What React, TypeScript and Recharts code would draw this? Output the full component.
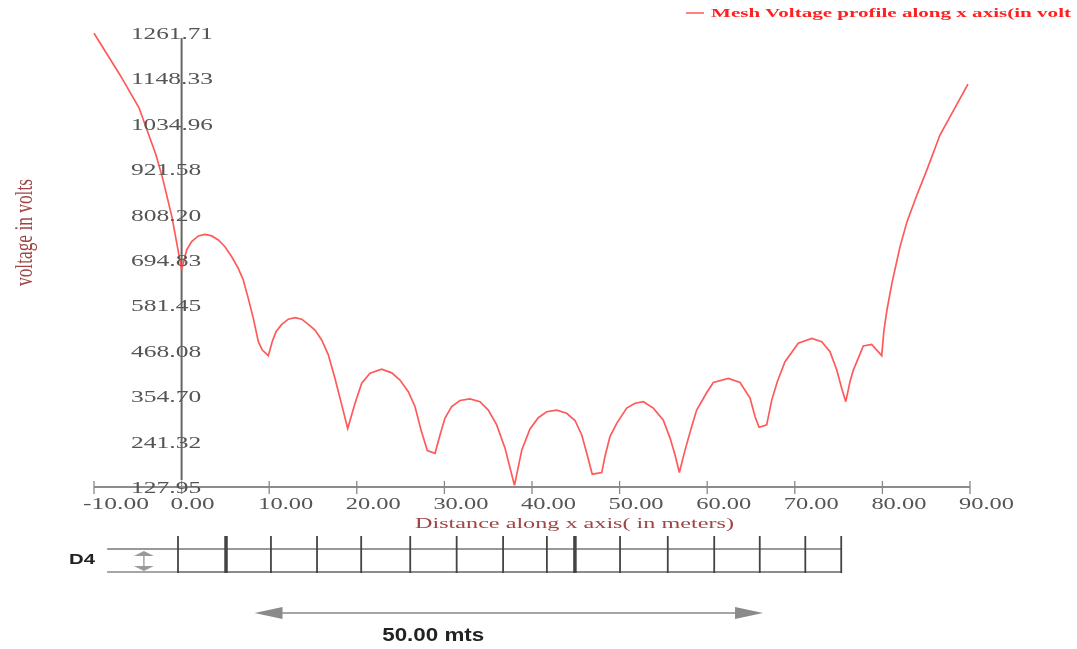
import { ComposedChart, Line, XAxis, YAxis, Legend, ReferenceLine, ReferenceDot, Label } from 'recharts';

// Mesh voltage profile
const distance = [
  -10, -7.03, -4.86, -2.92, -2.12, -1.1, -0.41, 0, 0.58, 1.15, 1.91, 2.67, 3.44, 4.19, 4.95, 5.72, 6.47, 7.04, 7.61, 8.19, 8.76, 9.21, 9.9,
  10.35, 10.78, 11.43, 12.18, 12.95, 13.71, 14.46, 15.23, 15.99, 16.75, 17.51, 18.28, 18.96, 19.8,
  20.56, 21.51, 22.84, 23.99, 24.93, 25.88, 26.64, 27.33, 28.05, 28.93, 29.5,
  30.07, 30.83, 31.78, 32.92, 34.06, 35.01, 35.97, 36.92, 38.0, 38.83, 39.77,
  40.72, 41.68, 42.82, 43.96, 44.91, 45.68, 46.25, 46.88, 47.96, 48.33, 48.9, 49.67,
  50.81, 51.76, 52.71, 53.85, 54.99, 55.76, 56.33, 56.82, 57.47, 58.23, 58.8, 59.95,
  60.7, 62.41, 63.75, 64.89, 65.46, 65.92, 66.79, 67.37, 68.0, 68.88,
  70.4, 71.93, 73.07, 74.02, 74.79, 75.36, 75.82, 76.3, 76.68, 77.82, 78.78, 79.92,
  80.18, 80.52, 81.09, 82.0, 82.8, 83.94, 85.08, 86.57, 89.77,
];
const voltage = [
  1261, 1157, 1075, 957, 895, 802, 720, 670, 720, 741, 755, 759, 755, 745, 728, 703, 674, 645, 599, 549, 491, 470, 456,
  491, 516, 534, 547, 551, 547, 534, 520, 495, 458, 399, 333, 274, 337,
  387, 412, 422, 413, 395, 366, 329, 270, 219, 212, 258,
  300, 329, 344, 348, 341, 320, 283, 225, 132, 220, 273,
  301, 316, 320, 312, 294, 258, 212, 160, 164, 204, 254, 287,
  325, 337, 341, 325, 295, 250, 208, 164, 220, 279, 320, 364,
  389, 399, 389, 350, 304, 277, 283, 345, 391, 441,
  487, 499, 491, 466, 420, 374, 341, 391, 420, 480, 484, 456,
  520, 570, 637, 727, 790, 857, 920, 1007, 1134,
];
const xTicks = [-10, 0, 10, 20, 30, 40, 50, 60, 70, 80, 90];
const yTicks = [127.95, 241.32, 354.7, 468.08, 581.45, 694.83, 808.2, 921.58, 1034.96, 1148.33, 1261.71];

// conductor spacing drawn under the chart, in meters
const conductors = [-0.41, 5.07, 10.2, 15.46, 20.5, 26.1, 31.4, 36.7, 41.7, 44.9, 50.05, 55.5, 60.8, 66, 71.2, 75.3];
const thickConductors = [5.07, 44.9];

const data = distance.map((d, i) => ({ distance: d, voltage: voltage[i] }));
const layoutData = conductors.map((c) => ({ distance: c, level: 42 }));

const SERIES_NAME = 'Mesh Voltage profile along x axis(in volt';
const SERIF = '"Liberation Serif", serif';
const SANS = '"Liberation Sans", Arial, sans-serif';
const TICK_COLOR = '#555555';
const TITLE_COLOR = '#a04545';
const LINE_COLOR = '#ff5a5a';

const XTick = ({ x, y, payload }: any) => {
  const label = payload.value.toFixed(2);
  return (
    <g>
      <line x1={x} x2={x} y1={y - 14} y2={y - 1} stroke="#888" strokeWidth={1.3} />
      <text x={x - 11} y={y + 14} fontFamily={SERIF} fontSize={16} fill={TICK_COLOR}
        textLength={label.length * 11} lengthAdjust="spacingAndGlyphs">{label}</text>
    </g>
  );
};

const YTick = ({ y, payload }: any) => {
  const label = payload.value.toFixed(2);
  return (
    <text x={131} y={y + 6} fontFamily={SERIF} fontSize={16} fill={TICK_COLOR}
      textLength={label.length * 11.7} lengthAdjust="spacingAndGlyphs">{label}</text>
  );
};

const LegendLine = () => (
  <svg width={1077} height={24} style={{ position: 'absolute', left: 0, top: 0, overflow: 'visible' }}>
    <line x1={686} x2={704} y1={13} y2={13} stroke={LINE_COLOR} strokeWidth={1.5} />
    <text x={711} y={17} fontFamily={SERIF} fontWeight="bold" fontSize={13} fill="#ff2020"
      textLength={360} lengthAdjust="spacingAndGlyphs">{SERIES_NAME}</text>
  </svg>
);

const Triangle = ({ cx, cy, dir }: any) => (
  <path d={`M${cx + dir * 14} ${cy} L${cx - dir * 14} ${cy - 6} L${cx - dir * 14} ${cy + 6} Z`} fill="#8a8a8a" />
);

const Cap = ({ cx, cy, dir }: any) => (
  <path d={`M${cx} ${cy} L${cx - 10} ${cy + dir * 5} L${cx + 10} ${cy + dir * 5} Z`} fill="#999" />
);

const TextMark = ({ cx, cy, text, length, size }: any) => (
  <text x={cx} y={cy} fontFamily={SANS} fontWeight="bold" fontSize={size} fill="#222"
    textLength={length} lengthAdjust="spacingAndGlyphs">{text}</text>
);

export default function App() {
  return (
    <div style={{ position: 'absolute', left: 0, top: 0, width: 1077, height: 649, background: '#fff', overflow: 'hidden', filter: 'blur(0.5px)' }}>
      <div style={{ position: 'absolute', left: 0, top: 0 }}>
        <ComposedChart width={1077} height={649} data={data} margin={{ top: 33, right: 107, left: 93, bottom: 132 }}>
          <XAxis dataKey="distance" type="number" domain={[-10, 90]} ticks={xTicks} interval={0} height={30}
            axisLine={{ stroke: '#666', strokeWidth: 1.5 }} tickLine={false} tick={<XTick />}>
            <Label position="insideBottom" content={() => (
              <text x={415} y={528} fontFamily={SERIF} fontSize={15} fill={TITLE_COLOR}
                textLength={319} lengthAdjust="spacingAndGlyphs">Distance along x axis( in meters)</text>
            )} />
          </XAxis>
          <YAxis type="number" domain={[127.95, 1261.71]} ticks={yTicks} interval={0} width={1}
            axisLine={false} tickLine={false} tick={<YTick />}>
            <Label content={() => (
              <text transform="translate(32 286) rotate(-90)" fontFamily={SERIF} fontSize={26} fill={TITLE_COLOR}
                textLength={107} lengthAdjust="spacingAndGlyphs">voltage in volts</text>
            )} />
          </YAxis>
          <ReferenceLine segment={[{ x: 0, y: 1249 }, { x: 0, y: 145 }]} stroke="#666" strokeWidth={2} />
          <Legend verticalAlign="top" wrapperStyle={{ position: 'absolute', top: 0, left: 0, width: 1077, height: 0 }} content={<LegendLine />} />
          <Line dataKey="voltage" name={SERIES_NAME} type="linear" stroke={LINE_COLOR} strokeWidth={1.7} dot={false} isAnimationActive={false} />
        </ComposedChart>
      </div>
      {/* conductor layout under the chart, same meter scale */}
      <div style={{ position: 'absolute', left: 0, top: 530 }}>
        <ComposedChart width={1077} height={119} data={layoutData} margin={{ top: 0, right: 107, left: 94, bottom: 0 }}>
          <XAxis dataKey="distance" type="number" domain={[-10, 90]} hide />
          <YAxis type="number" domain={[0, 119]} reversed hide />
          <Line dataKey="level" stroke="#666" strokeWidth={1.5} dot={false} isAnimationActive={false} />
          <ReferenceLine segment={[{ x: -8.5, y: 19 }, { x: 75.3, y: 19 }]} stroke="#777" strokeWidth={1.5} />
          <ReferenceLine segment={[{ x: -8.5, y: 42 }, { x: -0.41, y: 42 }]} stroke="#888" strokeWidth={1.5} />
          {conductors.map((c) => (
            <ReferenceLine key={c} segment={[{ x: c, y: 6 }, { x: c, y: 43 }]} stroke="#444"
              strokeWidth={thickConductors.includes(c) ? 3.5 : 1.8} />
          ))}
          <ReferenceLine segment={[{ x: -4.3, y: 22 }, { x: -4.3, y: 40 }]} stroke="#777" />
          <ReferenceDot x={-4.3} y={21} r={1} shape={<Cap dir={1} />} />
          <ReferenceDot x={-4.3} y={41} r={1} shape={<Cap dir={-1} />} />
          <ReferenceDot x={-12.85} y={34} r={1} ifOverflow="visible" shape={<TextMark text="D4" length={26} size={15} />} />
          <ReferenceLine segment={[{ x: 9, y: 83 }, { x: 65.5, y: 83 }]} stroke="#888" strokeWidth={1.5} />
          <ReferenceDot x={9.92} y={83} r={1} shape={<Triangle dir={-1} />} />
          <ReferenceDot x={64.78} y={83} r={1} shape={<Triangle dir={1} />} />
          <ReferenceDot x={22.9} y={111} r={1} shape={<TextMark text="50.00 mts" length={102} size={18} />} />
        </ComposedChart>
      </div>
    </div>
  );
}
